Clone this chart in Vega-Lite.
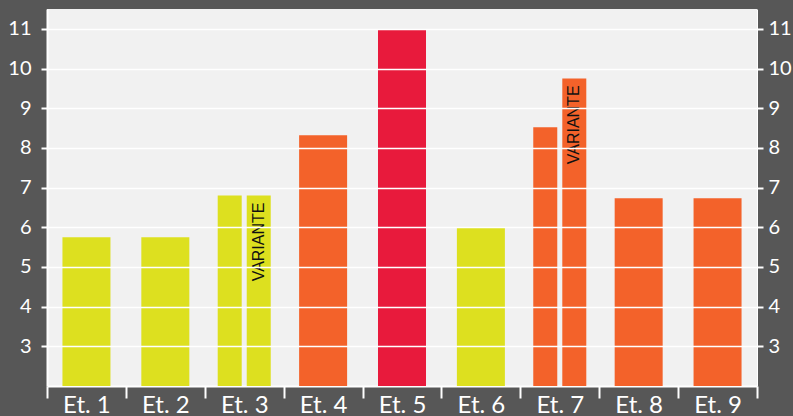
{
  "$schema": "https://vega.github.io/schema/vega-lite/v6.json",
  "width": 710,
  "height": 377,
  "autosize": {"type": "none"},
  "padding": {"left": 47, "top": 9, "right": 36, "bottom": 30},
  "background": "#575757",
  "config": {"view": {"fill": "#f1f1f1", "stroke": null}, "font": "Lato"},
  "data": {
    "values": [
      {"cat": "Et. 1", "part": "main", "split": false, "level": "bas", "value": 5.75},
      {"cat": "Et. 2", "part": "main", "split": false, "level": "bas", "value": 5.75},
      {"cat": "Et. 3", "part": "main", "split": true, "level": "bas", "value": 6.8},
      {"cat": "Et. 3", "part": "variante", "split": true, "level": "bas", "value": 6.8, "label": "VARIANTE"},
      {"cat": "Et. 4", "part": "main", "split": false, "level": "moyen", "value": 8.32},
      {"cat": "Et. 5", "part": "main", "split": false, "level": "haut", "value": 10.98},
      {"cat": "Et. 6", "part": "main", "split": false, "level": "bas", "value": 6.0},
      {"cat": "Et. 7", "part": "main", "split": true, "level": "moyen", "value": 8.52},
      {"cat": "Et. 7", "part": "variante", "split": true, "level": "moyen", "value": 9.75, "label": "VARIANTE"},
      {"cat": "Et. 8", "part": "main", "split": false, "level": "moyen", "value": 6.73},
      {"cat": "Et. 9", "part": "main", "split": false, "level": "moyen", "value": 6.73}
    ]
  },
  "encoding": {
    "x": {
      "field": "cat",
      "type": "nominal",
      "scale": {
        "domain": ["Et. 1", "Et. 2", "Et. 3", "Et. 4", "Et. 5", "Et. 6", "Et. 7", "Et. 8", "Et. 9"],
        "paddingInner": 0,
        "paddingOuter": 0
      },
      "axis": {
        "title": null,
        "labelAngle": 0,
        "labelColor": "white",
        "labelFontSize": 24,
        "labelPadding": -5,
        "domainColor": "white",
        "domainWidth": 2,
        "tickColor": "white",
        "tickWidth": 2,
        "tickSize": 12,
        "tickBand": "extent",
        "grid": false
      }
    },
    "color": {
      "field": "level",
      "type": "nominal",
      "scale": {"domain": ["bas", "moyen", "haut"], "range": ["#dde01f", "#f3622a", "#e81a3c"]},
      "legend": null
    }
  },
  "layer": [
    {
      "transform": [{"filter": "datum.split == false"}],
      "mark": {"type": "bar", "width": 48},
      "encoding": {
        "y": {
          "field": "value",
          "type": "quantitative",
          "scale": {"domain": [2, 11.5], "nice": false, "zero": false},
          "axis": {
            "orient": "left",
            "title": null,
            "values": [3, 4, 5, 6, 7, 8, 9, 10, 11],
            "grid": true,
            "gridColor": "white",
            "gridWidth": 1.5,
            "gridOpacity": 1,
            "zindex": 1,
            "domainColor": "white",
            "domainWidth": 2,
            "tickColor": "white",
            "tickWidth": 2,
            "tickSize": 6,
            "labelColor": "white",
            "labelFontSize": 20,
            "labelPadding": 10
          }
        },
        "y2": {"datum": 2}
      }
    },
    {
      "transform": [{"filter": "datum.split == true"}],
      "mark": {"type": "bar", "width": 24},
      "encoding": {
        "xOffset": {"field": "part", "type": "nominal", "scale": {"domain": ["main", "variante"], "paddingInner": 0, "paddingOuter": 0.3586}},
        "y": {"field": "value", "type": "quantitative", "axis": null},
        "y2": {"datum": 2}
      }
    },
    {
      "transform": [{"filter": "datum.part == 'variante'"}],
      "mark": {"type": "text", "angle": 270, "align": "right", "baseline": "middle", "dx": -7, "font": "Liberation Sans", "fontSize": 16, "color": "#111111"},
      "encoding": {
        "xOffset": {"field": "part", "type": "nominal", "scale": {"domain": ["main", "variante"], "paddingInner": 0, "paddingOuter": 0.3586}},
        "y": {
          "field": "value",
          "type": "quantitative",
          "axis": {
            "orient": "right",
            "title": null,
            "values": [3, 4, 5, 6, 7, 8, 9, 10, 11],
            "grid": false,
            "domainColor": "white",
            "domainWidth": 1,
            "tickColor": "white",
            "tickWidth": 2,
            "tickSize": 6,
            "labelColor": "white",
            "labelFontSize": 20,
            "labelPadding": 5
          }
        },
        "text": {"field": "label"},
        "color": {"value": "#111111"}
      }
    }
  ],
  "resolve": {"axis": {"y": "independent"}}
}
